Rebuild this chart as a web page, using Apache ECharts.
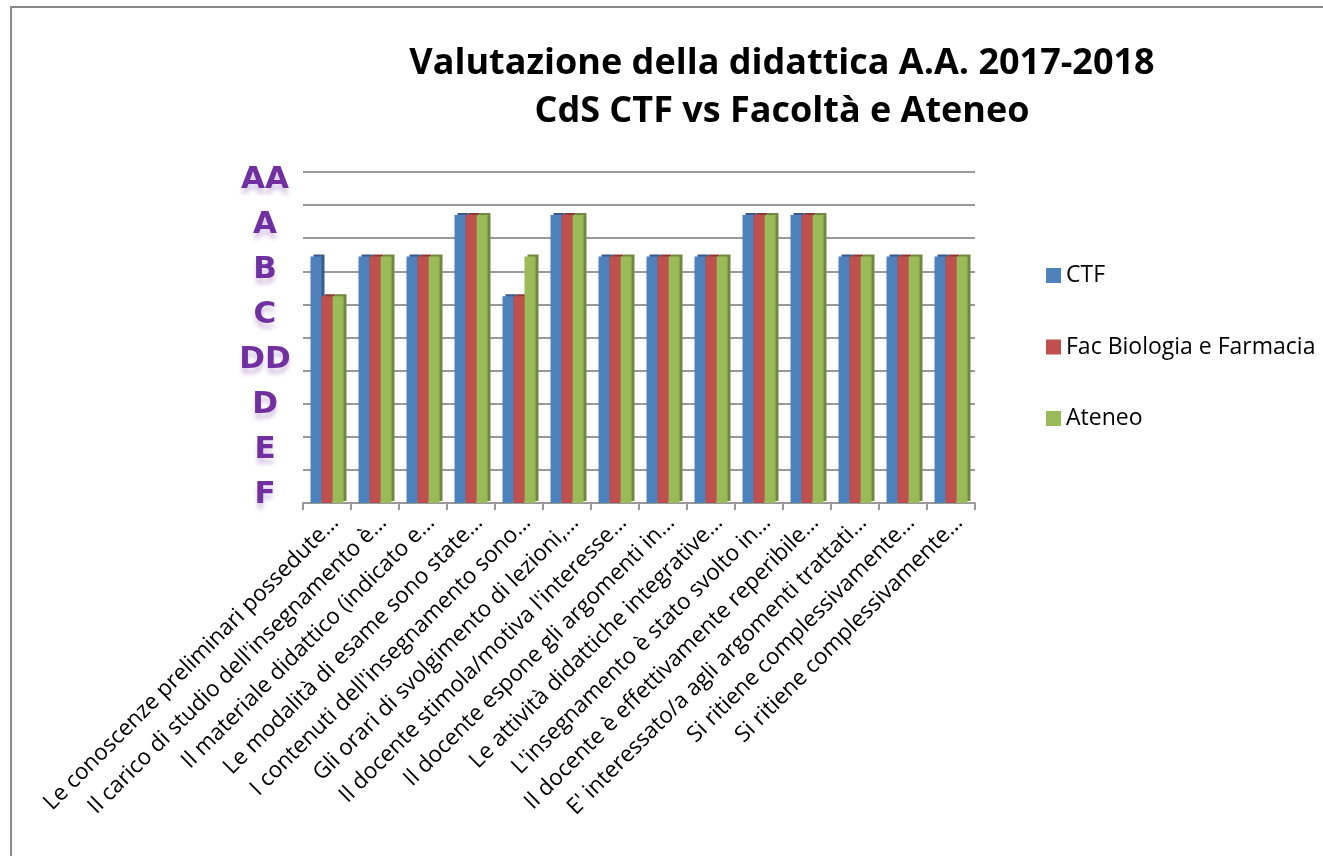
<!DOCTYPE html>
<html>
<head>
<meta charset="utf-8">
<title>Valutazione della didattica</title>
<script src="https://cdn.jsdelivr.net/npm/echarts@6/dist/echarts.min.js"></script>
<style>
  html, body { margin: 0; padding: 0; background: #fff; }
  #chart { width: 1323px; height: 856px; }
</style>
</head>
<body>
<div id="chart"></div>
<script>
// questions (truncated as in the original sheet)
var categories = [
  "Le conoscenze preliminari possedute…",
  "Il carico di studio dell'insegnamento è…",
  "Il materiale didattico (indicato e…",
  "Le modalità di esame sono state…",
  "I contenuti dell'insegnamento sono…",
  "Gli orari di svolgimento di lezioni,…",
  "Il docente stimola/motiva l'interesse…",
  "Il docente espone gli argomenti in…",
  "Le attività didattiche integrative…",
  "L'insegnamento è stato svolto in…",
  "Il docente è effettivamente reperibile…",
  "E' interessato/a agli argomenti trattati…",
  "Si ritiene complessivamente…",
  "Si ritiene complessivamente…"
];

// grade labels, bottom to top
var grades = ["F", "E", "D", "DD", "C", "B", "A", "AA"];

// scores (0-10 scale of the gridlines)
var ctf    = [7.45, 7.45, 7.45, 8.7, 6.25, 8.7, 7.45, 7.45, 7.45, 8.7, 8.7, 7.45, 7.45, 7.45];
var facBF  = [6.25, 7.45, 7.45, 8.7, 6.25, 8.7, 7.45, 7.45, 7.45, 8.7, 8.7, 7.45, 7.45, 7.45];
var ateneo = [6.25, 7.45, 7.45, 8.7, 7.45, 8.7, 7.45, 7.45, 7.45, 8.7, 8.7, 7.45, 7.45, 7.45];

var chart = echarts.init(document.getElementById("chart"));

function barSeries(name, data, color, side) {
  return {
    name: name,
    type: "bar",
    data: data,
    barWidth: 11,
    barGap: "0%",
    xAxisIndex: 0,
    yAxisIndex: 0,
    itemStyle: {
      color: color,
      shadowColor: side,
      shadowBlur: 0,
      shadowOffsetX: 3,
      shadowOffsetY: -2
    }
  };
}

chart.setOption({
  animation: false,
  textStyle: { fontFamily: "Open Sans" },
  title: {
    text: "Valutazione della didattica A.A. 2017-2018\nCdS CTF vs Facoltà e Ateneo",
    left: 777,
    top: 35,
    textAlign: "center",
    textStyle: {
      fontFamily: "Open Sans",
      fontWeight: "bold",
      fontSize: 36,
      lineHeight: 48,
      color: "#000"
    }
  },
  legend: {
    data: ["CTF", "Fac Biologia e Farmacia", "Ateneo"],
    orient: "vertical",
    left: 1041,
    top: 259,
    itemWidth: 15,
    itemHeight: 15,
    itemGap: 48.5,
    icon: "rect",
    textStyle: { fontFamily: "Open Sans", fontSize: 23, lineHeight: 23, color: "#000" }
  },
  graphic: [
    {
      type: "polyline",
      shape: { points: [[11, 900], [11, 7], [1400, 7]] },
      style: { stroke: "#888", lineWidth: 2, fill: null }
    }
  ],
  grid: [
    { left: 303, right: 348, top: 172, bottom: 353 },
    { left: 286, width: 1, top: 157, bottom: 339 }
  ],
  xAxis: [
    {
      type: "category",
      gridIndex: 0,
      data: categories,
      axisLine: { lineStyle: { color: "#999", width: 2 } },
      axisTick: { show: true, length: 7, lineStyle: { color: "#999", width: 2 } },
      axisLabel: {
        interval: 0,
        rotate: 45,
        margin: 8,
        verticalAlign: "top",
        fontFamily: "Open Sans",
        fontSize: 22.5,
        color: "#000"
      }
    },
    { type: "value", gridIndex: 1, show: false }
  ],
  yAxis: [
    {
      type: "value",
      gridIndex: 0,
      min: 0,
      max: 10,
      interval: 1,
      axisLine: { show: false },
      axisTick: { show: false },
      axisLabel: { show: false },
      splitLine: { lineStyle: { color: "#999", width: 2 } }
    },
    {
      type: "category",
      gridIndex: 1,
      data: grades,
      axisLine: { show: false },
      axisTick: { show: false },
      splitLine: { show: false },
      axisLabel: {
        margin: 21,
        align: "center",
        fontFamily: "DejaVu Sans",
        fontWeight: "bold",
        fontSize: 31,
        color: "#7030A0",
        textShadowColor: "rgba(112,48,160,0.25)",
        textShadowBlur: 4,
        textShadowOffsetY: 6
      }
    }
  ],
  series: [
    barSeries("CTF", ctf, "#4F81BD", "#385D8A"),
    barSeries("Fac Biologia e Farmacia", facBF, "#C0504D", "#8C3836"),
    barSeries("Ateneo", ateneo, "#9BBB59", "#71893F"),
    { type: "bar", xAxisIndex: 1, yAxisIndex: 1, data: [], silent: true }
  ]
});

window.onresize = function () {
  chart.resize();
};
</script>
</body>
</html>
